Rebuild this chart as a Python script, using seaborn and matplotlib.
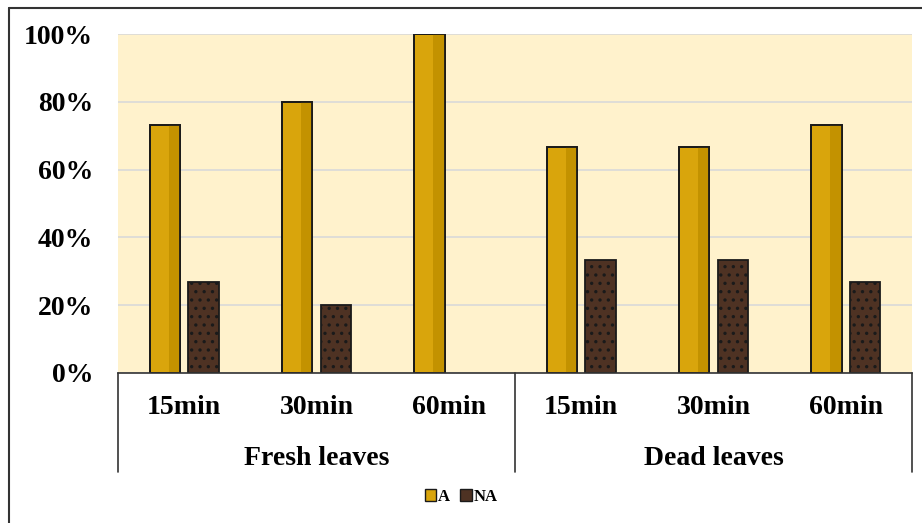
import pandas as pd
import matplotlib.pyplot as plt
import seaborn as sns
from matplotlib.lines import Line2D
from matplotlib.patches import Rectangle
from matplotlib.ticker import PercentFormatter

# Chart values (percent of samples)
groups = ["Fresh leaves", "Dead leaves"]
times = ["15min", "30min", "60min"]
a_values = [73.3, 80.0, 100.0, 66.7, 66.7, 73.3]
na_values = [26.7, 20.0, 0.0, 33.3, 33.3, 26.7]

# Build a long table for seaborn
slots = [f"{g} {t}" for g in groups for t in times]
df = pd.DataFrame({
    "slot": slots * 2,
    "value": a_values + na_values,
    "status": ["A"] * len(slots) + ["NA"] * len(slots),
})

gold = "#D9A50C"
brown = "#4E3223"

sns.set_theme(style="white")
plt.rcParams["font.family"] = ["Liberation Serif", "DejaVu Serif"]
plt.rcParams["font.weight"] = "bold"
plt.rcParams["text.color"] = "black"
plt.rcParams["xtick.color"] = "black"
plt.rcParams["ytick.color"] = "black"
plt.rcParams["hatch.color"] = "#64432F"
plt.rcParams["hatch.linewidth"] = 1.2

fig = plt.figure(figsize=(9.22, 5.23), dpi=100)
ax = fig.add_axes([118 / 922, 150 / 523, 794 / 922, 339 / 523])
ax.set_facecolor("#FFF2CC")

sns.barplot(data=df, x="slot", y="value", hue="status", order=slots,
            palette={"A": gold, "NA": brown}, saturation=1,
            width=0.58, gap=0.21, edgecolor="#1a1a1a", linewidth=1.3,
            legend=False, ax=ax, zorder=3)

# Bevel shading on gold bars, texture on brown bars
for patch in list(ax.patches):
    h = patch.get_height()
    if h == 0:
        patch.set_visible(False)
        continue
    if patch.get_facecolor()[0] > 0.6:
        x0, w = patch.get_x(), patch.get_width()
        ax.add_patch(Rectangle((x0 + w * 0.62, 0), w * 0.38, h, facecolor="#C39200",
                               edgecolor="none", zorder=3.5))
        ax.add_patch(Rectangle((x0, 0), w, h, facecolor="none",
                               edgecolor="#1a1a1a", linewidth=1.3, zorder=4))
    else:
        patch.set_hatch("..")

ax.set_ylim(0, 100)
ax.set_xlim(-0.5, len(slots) - 0.5)
ax.yaxis.set_major_formatter(PercentFormatter(decimals=0))
ax.set_yticks([0, 20, 40, 60, 80, 100])
ax.grid(axis="y", color="#D9D9D9", linewidth=1.2, zorder=0)
ax.set_axisbelow(True)
for side in ["top", "right", "left"]:
    ax.spines[side].set_visible(False)
ax.spines["bottom"].set_color("#333333")
ax.spines["bottom"].set_linewidth(1.2)
ax.spines["bottom"].set_zorder(5)

ax.set_xticks(range(len(slots)))
ax.set_xticklabels(times * len(groups))
ax.tick_params(axis="x", length=0, pad=16, labelsize=20, labelcolor="black")
ax.tick_params(axis="y", length=0, pad=18, labelsize=20, labelcolor="black")
ax.set_xlabel("")
ax.set_ylabel("")

# Group labels and separators below the axis
trans = ax.get_xaxis_transform()
for i, g in enumerate(groups):
    center = i * len(times) + (len(times) - 1) / 2
    ax.text(center, -0.252, g, transform=trans, ha="center", va="center",
            fontsize=20, fontweight="bold", color="black", clip_on=False)
for xpos in [-0.5, 2.5, 5.5]:
    ax.plot([xpos, xpos], [0, -0.292], transform=trans, color="#333333",
            linewidth=1.2, clip_on=False)

# Outer chart frame (top and left edges visible)
fig.add_artist(Line2D([9 / 922, 9 / 922], [0, 1 - 8 / 523], color="#333333", linewidth=1.5))
fig.add_artist(Line2D([9 / 922, 1], [1 - 8 / 523, 1 - 8 / 523], color="#333333", linewidth=1.5))

# Legend
handles = [
    Rectangle((0, 0), 1, 1, facecolor=gold, edgecolor="#1a1a1a"),
    Rectangle((0, 0), 1, 1, facecolor=brown, edgecolor="#1a1a1a"),
]
fig.legend(handles, ["A", "NA"], loc="center", bbox_to_anchor=(0.5, 1 - 497 / 523),
           ncol=2, frameon=False, handlelength=0.7, handleheight=0.7,
           handletextpad=0.1, columnspacing=0.6, prop={"size": 12, "weight": "bold"})

fig.savefig("out.png", dpi=100)
